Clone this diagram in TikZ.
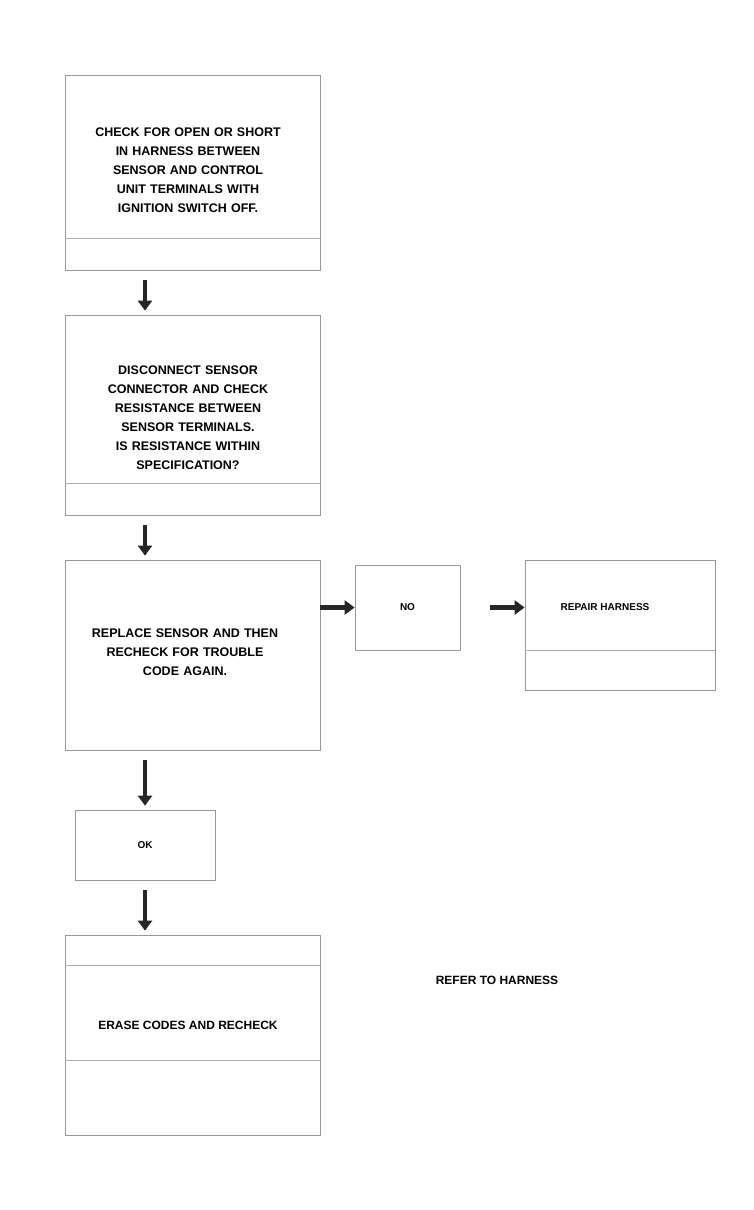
\documentclass[tikz,border=0pt]{standalone}
\usepackage{fontspec}
\setmainfont{Liberation Sans}
\usetikzlibrary{arrows.meta,calc}
\begin{document}
\begin{tikzpicture}[x=1pt,y=-1pt,
  box/.style={draw=black!40,line width=0.8pt,rectangle,inner sep=0pt},
  txt/.style={font=\bfseries\fontsize{12.5}{19}\selectfont,align=center,text width=215pt},
  small/.style={font=\bfseries\fontsize{10}{12}\selectfont},
  divider/.style={draw=black!30,line width=0.7pt},
  flow/.style={line width=4.5pt,-{Triangle[length=10pt,width=14pt]},black!85}]
\useasboundingbox (0,0) rectangle (753,1210);
\coordinate (ax) at (145,0);
% boxes
\node[box,minimum width=255pt,minimum height=195pt] (b1) at (192.5,172.5) {};
\node[txt] (t1) at (188,170) {CHECK FOR OPEN OR SHORT\\IN HARNESS BETWEEN\\SENSOR AND CONTROL\\UNIT TERMINALS WITH\\IGNITION SWITCH OFF.};
\node[box,minimum width=255pt,minimum height=200pt] (b2) at (192.5,415) {};
\node[txt] (t2) at (188,418) {DISCONNECT SENSOR\\CONNECTOR AND CHECK\\RESISTANCE BETWEEN\\SENSOR TERMINALS.\\IS RESISTANCE WITHIN\\SPECIFICATION?};
\node[box,minimum width=255pt,minimum height=190pt] (b3) at (192.5,655) {};
\node[txt] (t3) at (185,652) {REPLACE SENSOR AND THEN\\RECHECK FOR TROUBLE\\CODE AGAIN.};
\node[box,minimum width=105pt,minimum height=85pt] (sr) at (407.5,607.5) {};
\node[small] (tsr) at (sr) {NO};
\node[box,minimum width=190pt,minimum height=130pt] (b4) at (620,625) {};
\node[small] (t4) at (605,607) {REPAIR HARNESS};
\node[box,minimum width=140pt,minimum height=70pt] (sd) at (145,845) {};
\node[small] (tsd) at (sd) {OK};
\node[box,minimum width=255pt,minimum height=200pt] (b5) at (192.5,1035) {};
\node[font=\bfseries\fontsize{12}{14}\selectfont] (t5) at (188,1025) {ERASE CODES AND RECHECK};
\node[font=\bfseries\fontsize{12}{14}\selectfont] (note) at (497,980) {REFER TO HARNESS};
% dividers
\draw[divider] (b1.south west) ++(0,-32) -- ++(255,0);
\draw[divider] (b2.south west) ++(0,-32) -- ++(255,0);
\draw[divider] (b4.south west) ++(0,-40) -- ++(190,0);
\draw[divider] (b5.south west) ++(0,-170) -- ++(255,0);
\draw[divider] (b5.south west) ++(0,-75) -- ++(255,0);
% arrows
\draw[flow] ($(b1.south -| ax)+(0,10)$) -- ($(b2.north -| ax)+(0,-4)$);
\draw[flow] ($(b2.south -| ax)+(0,10)$) -- ($(b3.north -| ax)+(0,-4)$);
\draw[flow] ($(b3.south -| ax)+(0,10)$) -- ($(sd.north)+(0,-4)$);
\draw[flow] ($(sd.south)+(0,10)$) -- ($(b5.north -| ax)+(0,-4)$);
\draw[flow] (b3.east |- sr) -- (sr.west);
\draw[flow] ($(sr.east)+(30,0)$) -- (b4.west |- sr);
\end{tikzpicture}
\end{document}
